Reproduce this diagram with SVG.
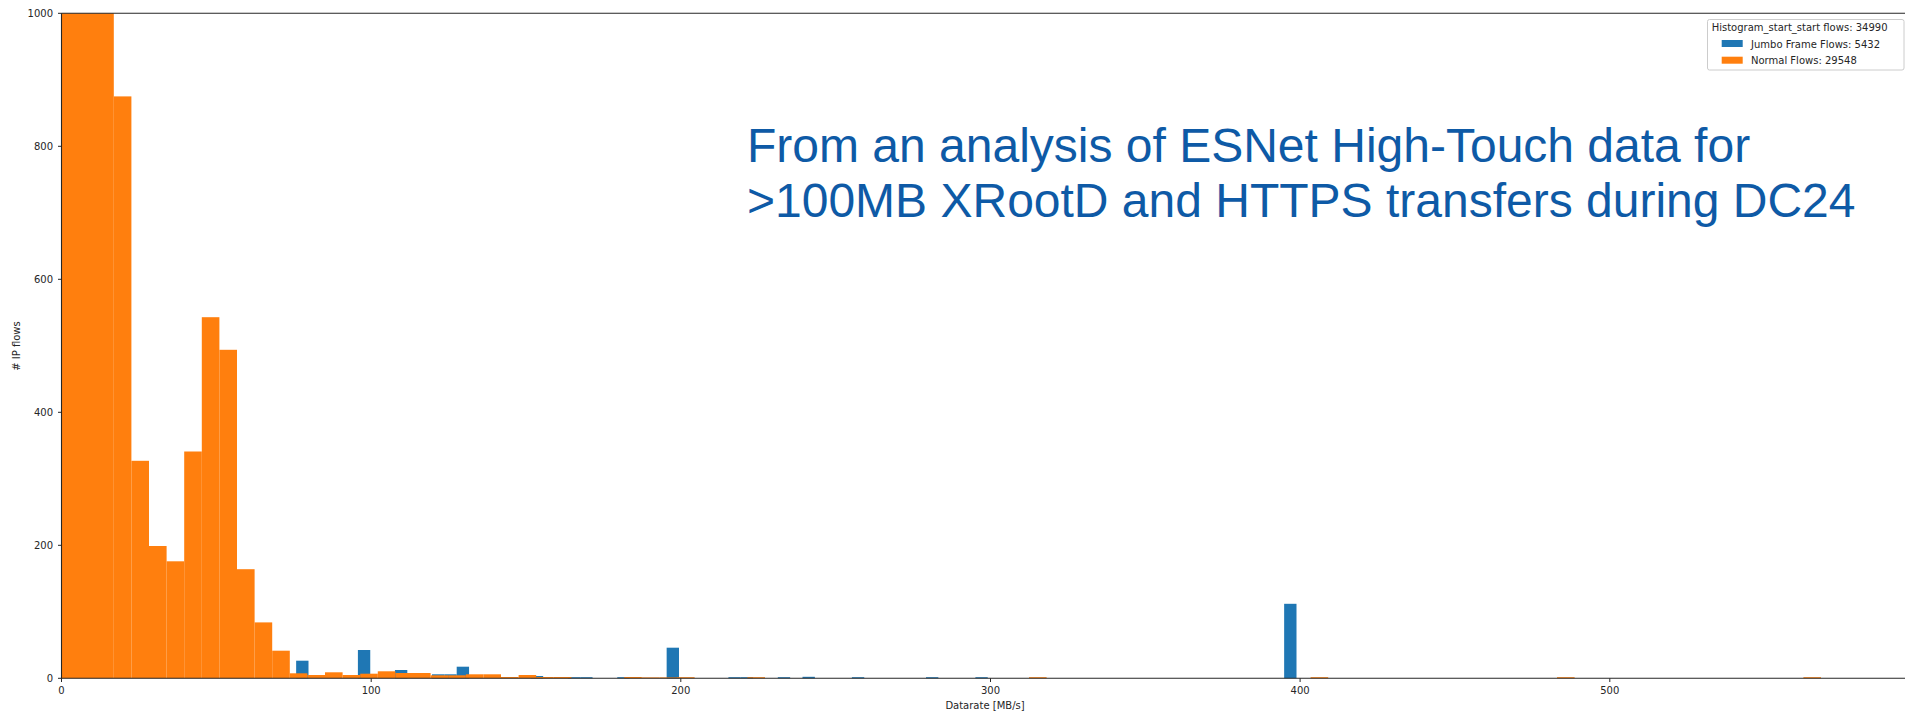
<svg xmlns="http://www.w3.org/2000/svg" width="1905" height="711" viewBox="0 0 1905 711">
<style>
.tick{font-family:"DejaVu Sans",sans-serif;font-size:10px;fill:#262626}
.lbl{font-family:"DejaVu Sans",sans-serif;font-size:10px;fill:#262626}
.blue{fill:#1f77b4}
.orange{fill:#ff7f0e}
.ann{font-family:"Liberation Sans",Arial,sans-serif;font-size:48px;fill:#0e5aa6}
.tk{stroke:#262626;stroke-width:1}
</style>
<rect width="1905" height="711" fill="#ffffff"/>
<g id="jumbo-bars">
<rect class="blue" x="296.15" y="660.7" width="12.35" height="17.6"/>
<rect class="blue" x="357.9" y="650" width="12.35" height="28.3"/>
<rect class="blue" x="394.95" y="670" width="12.35" height="8.3"/>
<rect class="blue" x="432" y="674.3" width="12.35" height="4"/>
<rect class="blue" x="444.35" y="674.3" width="12.35" height="4"/>
<rect class="blue" x="456.7" y="666.7" width="12.35" height="11.6"/>
<rect class="blue" x="530.8" y="676" width="12.35" height="2.3"/>
<rect class="blue" x="567.85" y="677.2" width="12.35" height="1.1"/>
<rect class="blue" x="580.2" y="677.2" width="12.35" height="1.1"/>
<rect class="blue" x="617.25" y="677.2" width="12.35" height="1.1"/>
<rect class="blue" x="666.65" y="647.7" width="12.35" height="30.6"/>
<rect class="blue" x="728.4" y="677.2" width="12.35" height="1.1"/>
<rect class="blue" x="740.75" y="677.2" width="12.35" height="1.1"/>
<rect class="blue" x="777.8" y="677.2" width="12.35" height="1.1"/>
<rect class="blue" x="802.5" y="676.8" width="12.35" height="1.5"/>
<rect class="blue" x="851.9" y="677.2" width="12.35" height="1.1"/>
<rect class="blue" x="926" y="677.2" width="12.35" height="1.1"/>
<rect class="blue" x="975.4" y="677.2" width="12.35" height="1.1"/>
<rect class="blue" x="1284.15" y="603.8" width="12.35" height="74.5"/>
</g>
<g id="normal-bars">
<rect class="orange" x="61" y="13.3" width="52.8" height="665"/>
<rect class="orange" x="113.8" y="96.4" width="17.6" height="581.9"/>
<rect class="orange" x="131.4" y="460.8" width="17.6" height="217.5"/>
<rect class="orange" x="149" y="546" width="17.6" height="132.3"/>
<rect class="orange" x="166.6" y="561.3" width="17.6" height="117"/>
<rect class="orange" x="184.2" y="451.5" width="17.6" height="226.8"/>
<rect class="orange" x="201.8" y="317.2" width="17.6" height="361.1"/>
<rect class="orange" x="219.4" y="349.8" width="17.6" height="328.5"/>
<rect class="orange" x="237" y="569.2" width="17.6" height="109.1"/>
<rect class="orange" x="254.6" y="622.4" width="17.6" height="55.9"/>
<rect class="orange" x="272.2" y="650.7" width="17.6" height="27.6"/>
<rect class="orange" x="289.8" y="673.3" width="17.6" height="5"/>
<rect class="orange" x="307.4" y="675" width="17.6" height="3.3"/>
<rect class="orange" x="325" y="672.3" width="17.6" height="6"/>
<rect class="orange" x="342.6" y="675" width="17.6" height="3.3"/>
<rect class="orange" x="360.2" y="673.7" width="17.6" height="4.6"/>
<rect class="orange" x="377.8" y="671.3" width="17.6" height="7"/>
<rect class="orange" x="395.4" y="673" width="17.6" height="5.3"/>
<rect class="orange" x="413" y="673" width="17.6" height="5.3"/>
<rect class="orange" x="430.6" y="675.3" width="17.6" height="3"/>
<rect class="orange" x="448.2" y="675.3" width="17.6" height="3"/>
<rect class="orange" x="465.8" y="674.3" width="17.6" height="4"/>
<rect class="orange" x="483.4" y="674.3" width="17.6" height="4"/>
<rect class="orange" x="501" y="677" width="17.6" height="1.3"/>
<rect class="orange" x="518.6" y="675" width="17.6" height="3.3"/>
<rect class="orange" x="536.2" y="677" width="17.6" height="1.3"/>
<rect class="orange" x="553.8" y="677" width="17.6" height="1.3"/>
<rect class="orange" x="624.2" y="677" width="17.6" height="1.3"/>
<rect class="orange" x="641.8" y="677.4" width="17.6" height="0.9"/>
<rect class="orange" x="659.4" y="677.4" width="17.6" height="0.9"/>
<rect class="orange" x="677" y="677.2" width="17.6" height="1.1"/>
<rect class="orange" x="747.4" y="677.2" width="17.6" height="1.1"/>
<rect class="orange" x="1029" y="677.2" width="17.6" height="1.1"/>
<rect class="orange" x="1310.6" y="677.2" width="17.6" height="1.1"/>
<rect class="orange" x="1557" y="677.2" width="17.6" height="1.1"/>
<rect class="orange" x="1803.4" y="677.2" width="17.6" height="1.1"/>
</g>
<g id="axes">
<line x1="61.5" y1="13.3" x2="1905" y2="13.3" stroke="#262626" stroke-width="1.1"/>
<line x1="61.5" y1="678.3" x2="1905" y2="678.3" stroke="#262626" stroke-width="1.1"/>
<line x1="61.5" y1="13.3" x2="61.5" y2="678.8" stroke="#262626" stroke-width="1.1"/>
<g id="yticks">
<line class="tk" x1="58" y1="678.3" x2="61.5" y2="678.3"/>
<line class="tk" x1="58" y1="545.3" x2="61.5" y2="545.3"/>
<line class="tk" x1="58" y1="412.3" x2="61.5" y2="412.3"/>
<line class="tk" x1="58" y1="279.3" x2="61.5" y2="279.3"/>
<line class="tk" x1="58" y1="146.3" x2="61.5" y2="146.3"/>
<line class="tk" x1="58" y1="13.3" x2="61.5" y2="13.3"/>
<text class="tick" x="53" y="681.9" text-anchor="end">0</text>
<text class="tick" x="53" y="548.9" text-anchor="end">200</text>
<text class="tick" x="53" y="415.9" text-anchor="end">400</text>
<text class="tick" x="53" y="282.9" text-anchor="end">600</text>
<text class="tick" x="53" y="149.9" text-anchor="end">800</text>
<text class="tick" x="53" y="16.9" text-anchor="end">1000</text>
</g>
<g id="xticks">
<line class="tk" x1="61.5" y1="678.3" x2="61.5" y2="682"/>
<line class="tk" x1="371.2" y1="678.3" x2="371.2" y2="682"/>
<line class="tk" x1="680.8" y1="678.3" x2="680.8" y2="682"/>
<line class="tk" x1="990.5" y1="678.3" x2="990.5" y2="682"/>
<line class="tk" x1="1300.1" y1="678.3" x2="1300.1" y2="682"/>
<line class="tk" x1="1609.8" y1="678.3" x2="1609.8" y2="682"/>
<text class="tick" x="61.5" y="694" text-anchor="middle">0</text>
<text class="tick" x="371.2" y="694" text-anchor="middle">100</text>
<text class="tick" x="680.8" y="694" text-anchor="middle">200</text>
<text class="tick" x="990.5" y="694" text-anchor="middle">300</text>
<text class="tick" x="1300.1" y="694" text-anchor="middle">400</text>
<text class="tick" x="1609.8" y="694" text-anchor="middle">500</text>
</g>
<text class="lbl" x="985" y="708.5" text-anchor="middle">Datarate [MB/s]</text>
<text class="lbl" transform="translate(19.5,346) rotate(-90)" text-anchor="middle">#  IP flows</text>
</g>
<g id="legend">
<rect x="1707.5" y="19.5" width="196.5" height="50.5" rx="2" fill="#ffffff" fill-opacity="0.8" stroke="#cccccc" stroke-width="1"/>
<text class="lbl" x="1711.7" y="31">Histogram_start_start flows: 34990</text>
<rect class="blue" x="1721.7" y="40" width="21" height="7"/>
<text class="lbl" x="1751" y="47.5">Jumbo Frame Flows: 5432</text>
<rect class="orange" x="1721.7" y="56.7" width="21" height="7"/>
<text class="lbl" x="1751" y="64">Normal Flows: 29548</text>
</g>
<g id="annotation">
<text class="ann" x="747" y="161.5">From an analysis of ESNet High-Touch data for</text>
<text class="ann" x="747" y="216.5">&gt;100MB XRootD and HTTPS transfers during DC24</text>
</g>
</svg>
